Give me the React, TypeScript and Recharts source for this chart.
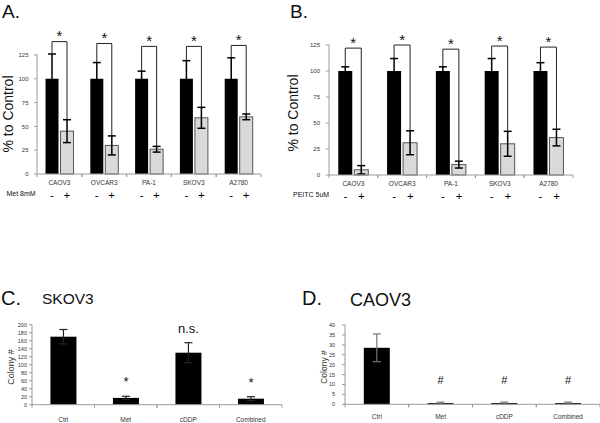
import React from 'react';
import { BarChart, Bar, XAxis, YAxis, ErrorBar } from 'recharts';

// panels A and B: cell lines, control vs treated (% to control)
const cellLines = ['CAOV3', 'OVCAR3', 'PA-1', 'SKOV3', 'A2780'];

const metCtrl = [100, 100, 100, 100, 100];
const metCtrlErr = [26, 17, 8, 19, 22];
const metTreat = [45, 30, 26, 59, 60];
const metTreatErr = [12, 10, 3, 11, 3];
const metBracket = [139, 137, 134, 134, 135];

const peitcCtrl = [100, 100, 100, 100, 100];
const peitcCtrlErr = [4, 12, 4, 12, 8];
const peitcTreat = [5, 31, 10, 30, 36];
const peitcTreatErr = [4, 11.5, 3.3, 12, 8];
const peitcBracket = [122, 125, 121, 124, 123];

const pctTicks = [0, 25, 50, 75, 100, 125];

// panels C and D: colony counts
const groups = ['Ctrl', 'Met', 'cDDP', 'Combined'];

const skovCount = [170, 17, 130, 15];
const skovErr = [18, 4, 25, 5];
const skovMarks = ['', '*', 'n.s.', '*'];
const skovTicks = [0, 20, 40, 60, 80, 100, 120, 140, 160, 180, 200];

const caovCount = [28.5, 0.6, 0.6, 0.6];
const caovErr = [7, 0.5, 0.5, 0.5];
const caovMarks = ['', '#', '#', '#'];
const caovTicks = [0, 5, 10, 15, 20, 25, 30, 35, 40];

const FONT = '"Liberation Sans", Arial, sans-serif';
const AXIS = '#9a9a9a';
const TEXT = '#333';
const BAR_GAP = 2;
const PAIR_GAP = 0.19;

const metData = cellLines.map((name, i) => ({
    name, ctrl: metCtrl[i], ctrlErr: metCtrlErr[i], treat: metTreat[i], treatErr: metTreatErr[i], bracket: metBracket[i]
}));
const peitcData = cellLines.map((name, i) => ({
    name, ctrl: peitcCtrl[i], ctrlErr: peitcCtrlErr[i], treat: peitcTreat[i], treatErr: peitcTreatErr[i], bracket: peitcBracket[i]
}));
const skovData = groups.map((name, i) => ({ name, count: skovCount[i], err: skovErr[i], mark: skovMarks[i] }));
const caovData = groups.map((name, i) => ({ name, count: caovCount[i], err: caovErr[i], mark: caovMarks[i] }));

// gray bar + significance bracket back to the control bar
const TreatBar = (props: any) => {
    const { x, y, width, height, payload } = props;
    const base = y + height;
    const ppu = height / payload.treat;
    const toY = (v: number) => base - v * ppu;
    const cx = x + width / 2;
    const bx = x - BAR_GAP - width / 2;
    const top = toY(payload.bracket);
    return (
        <g>
            <rect x={x} y={y} width={width} height={height} fill="#d9d9d9" stroke="#555" strokeWidth={1} />
            <polyline
                points={`${bx},${toY(payload.ctrl + payload.ctrlErr)} ${bx},${top} ${cx},${top} ${cx},${toY(payload.treat + payload.treatErr)}`}
                fill="none" stroke="#222" strokeWidth={1} />
            <text x={(bx + cx) / 2} y={top - 0.5} textAnchor="middle" fontSize={15} fontFamily={FONT} fill="#111">*</text>
        </g>
    );
};

const makeColonyBar = (gap: number, size: number) => (props: any) => {
    const { x, y, width, height, payload } = props;
    const base = y + height;
    const ppu = height / payload.count;
    const errTop = base - (payload.count + payload.err) * ppu;
    return (
        <g>
            <rect x={x} y={y} width={width} height={height} fill="#000" />
            {payload.mark && (
                <text x={x + width / 2} y={errTop - gap} textAnchor="middle" fontSize={size} fontFamily={FONT} fill="#111">
                    {payload.mark}
                </text>
            )}
        </g>
    );
};

const makePairTick = (labelDy: number) => (props: any) => {
    const { x, y, payload } = props;
    const half = payload.offset ?? props.width / props.visibleTicksCount / 2;
    const band = half * 2;
    const barW = (band * (1 - 2 * PAIR_GAP) - BAR_GAP) / 2;
    const d = (barW + BAR_GAP) / 2;
    return (
        <g fontFamily={FONT}>
            <line x1={x - half} x2={x - half} y1={y} y2={y + 3} stroke={AXIS} />
            <line x1={x + half} x2={x + half} y1={y} y2={y + 3} stroke={AXIS} />
            <text x={x} y={y + labelDy} textAnchor="middle" fontSize={6.5} fill={TEXT}>{payload.value}</text>
            <text x={x - d} y={y + 24.5} textAnchor="middle" fontSize={11.5} fill="#000">-</text>
            <text x={x + d} y={y + 24.5} textAnchor="middle" fontSize={11.5} fill="#000">+</text>
        </g>
    );
};

const makeGroupTick = (labelDy: number) => (props: any) => {
    const { x, y, payload } = props;
    const half = payload.offset ?? props.width / props.visibleTicksCount / 2;
    return (
        <g fontFamily={FONT}>
            <line x1={x - half} x2={x - half} y1={y} y2={y + 3} stroke={AXIS} />
            <line x1={x + half} x2={x + half} y1={y} y2={y + 3} stroke={AXIS} />
            <text x={x} y={y + labelDy} textAnchor="middle" fontSize={6.5} fill={TEXT}>{payload.value}</text>
        </g>
    );
};

const PairChart = ({ data, left, width, margin, yWidth, xHeight, tickMargin }: any) => (
    <div style={{ position: 'absolute', left, top: 0 }}>
        <BarChart width={width} height={230} data={data} margin={margin} barGap={BAR_GAP} barCategoryGap="19%">
            <XAxis dataKey="name" height={xHeight} tickSize={0} tickMargin={0} tickLine={false}
                axisLine={{ stroke: AXIS }} tick={makePairTick(11)} interval={0} />
            <YAxis width={yWidth} domain={[0, 125]} ticks={pctTicks} tickSize={3} tickMargin={tickMargin}
                axisLine={{ stroke: AXIS }} tickLine={{ stroke: AXIS }}
                tick={{ fontSize: 6, fill: TEXT, fontFamily: FONT }} />
            <Bar dataKey="ctrl" fill="#000" isAnimationActive={false}>
                <ErrorBar dataKey="ctrlErr" width={4} stroke="#000" strokeWidth={1.5} direction="y" />
            </Bar>
            <Bar dataKey="treat" shape={TreatBar} isAnimationActive={false}>
                <ErrorBar dataKey="treatErr" width={4} stroke="#000" strokeWidth={1.5} direction="y" />
            </Bar>
        </BarChart>
    </div>
);

const ColonyChart = ({ data, left, margin, yWidth, xHeight, max, ticks, tickMargin, labelDy, errColor, gap, size }: any) => (
    <div style={{ position: 'absolute', left, top: 280 }}>
        <BarChart width={300} height={143} data={data} margin={margin} barCategoryGap="29.5%">
            <XAxis dataKey="name" height={xHeight} tickSize={0} tickMargin={0} tickLine={false}
                axisLine={{ stroke: AXIS }} tick={makeGroupTick(labelDy)} interval={0} />
            <YAxis width={yWidth} domain={[0, max]} ticks={ticks} tickSize={3} tickMargin={tickMargin}
                axisLine={{ stroke: AXIS }} tickLine={{ stroke: AXIS }} interval={0}
                tick={{ fontSize: 5.5, fill: TEXT, fontFamily: FONT }} />
            <Bar dataKey="count" shape={makeColonyBar(gap, size)} isAnimationActive={false}>
                <ErrorBar dataKey="err" width={4} stroke={errColor} strokeWidth={1.2} direction="y" />
            </Bar>
        </BarChart>
    </div>
);

const App = () => (
    <div style={{ position: 'absolute', left: 0, top: 0, width: 600, height: 423, background: '#fff', fontFamily: FONT }}>
        <PairChart data={metData} left={0} width={300} yWidth={37} xHeight={56} tickMargin={5.5}
            margin={{ top: 54, right: 39, bottom: 0, left: 0 }} />
        <PairChart data={peitcData} left={280} width={320} yWidth={49} xHeight={55} tickMargin={6}
            margin={{ top: 45, right: 27, bottom: 0, left: 0 }} />
        <ColonyChart data={skovData} left={0} yWidth={32} xHeight={18.3} max={200} ticks={skovTicks}
            tickMargin={2} labelDy={17} errColor="#222" gap={10} size={13}
            margin={{ top: 44.7, right: 18, bottom: 0, left: 0 }} />
        <ColonyChart data={caovData} left={300} yWidth={45} xHeight={18.7} max={40} ticks={caovTicks}
            tickMargin={7} labelDy={15} errColor="#777" gap={18} size={11}
            margin={{ top: 45, right: 0, bottom: 0, left: 0 }} />
        <svg width={600} height={423} style={{ position: 'absolute', left: 0, top: 0, pointerEvents: 'none' }}
            fontFamily={FONT}>
            <text x={2} y={18} fontSize={19} fill="#111">A.</text>
            <text x={290} y={18} fontSize={19} fill="#111">B.</text>
            <text x={1} y={305} fontSize={20} fill="#111">C.</text>
            <text x={302} y={305} fontSize={20} fill="#111">D.</text>
            <text x={42} y={304} fontSize={15.5} fill="#111">SKOV3</text>
            <text x={350} y={306} fontSize={18} fill="#111">CAOV3</text>
            <text x={13} y={114} fontSize={14} fill="#111" textAnchor="middle" transform="rotate(-90 13 114)">% to Control</text>
            <text x={298} y={113} fontSize={14} fill="#111" textAnchor="middle" transform="rotate(-90 298 113)">% to Control</text>
            <text x={14} y={367} fontSize={9} fill={TEXT} textAnchor="middle" transform="rotate(-90 14 367)">Colony #</text>
            <text x={327} y={367} fontSize={8.5} fill={TEXT} textAnchor="middle" transform="rotate(-90 327 367)">Colony #</text>
            <text x={6.5} y={196} fontSize={7} fill="#111">Met 8mM</text>
            <text x={293} y={197} fontSize={7} fill="#111">PEITC 5uM</text>
        </svg>
    </div>
);

export default App;
